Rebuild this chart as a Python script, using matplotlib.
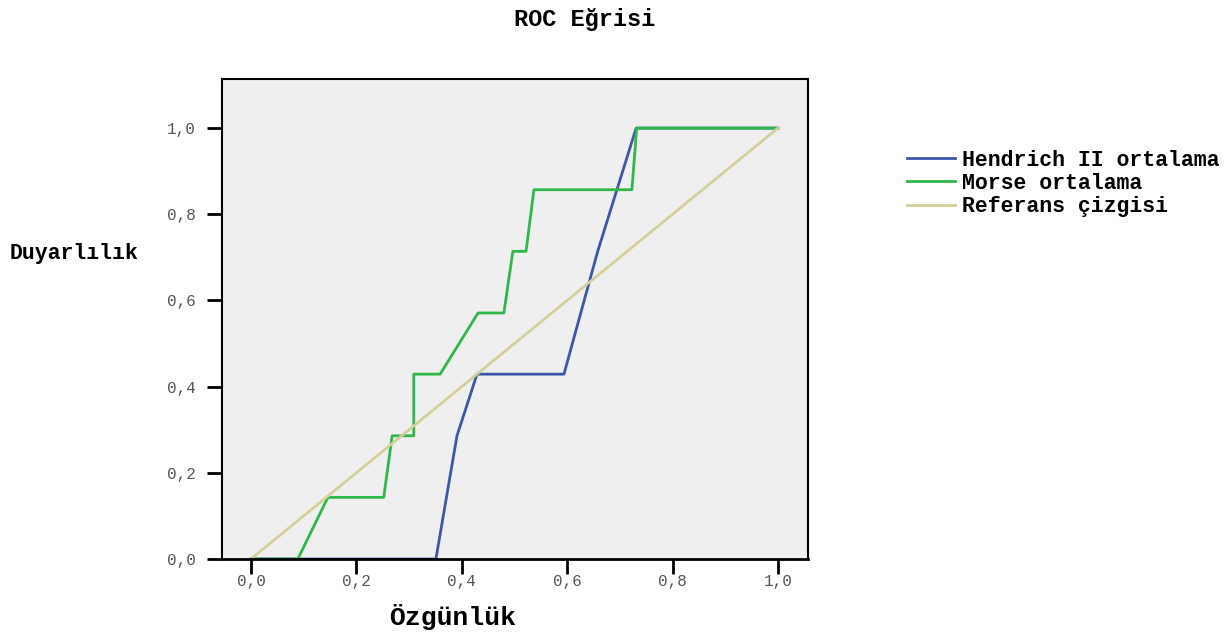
import numpy as np
import matplotlib.pyplot as plt
from matplotlib.ticker import FuncFormatter

# ROC points (1 - specificity, sensitivity)
hendrich_x = [0.0, 0.351, 0.391, 0.429, 0.594, 0.658, 0.731, 1.0]
hendrich_y = [0.0, 0.0, 0.286, 0.429, 0.429, 0.714, 1.0, 1.0]

morse_x = [0.0, 0.089, 0.146, 0.252, 0.268, 0.309, 0.309, 0.359, 0.431,
           0.480, 0.497, 0.522, 0.537, 0.723, 0.732, 1.0]
morse_y = [0.0, 0.0, 0.143, 0.143, 0.286, 0.286, 0.429, 0.429, 0.571,
           0.571, 0.714, 0.714, 0.857, 0.857, 1.0, 1.0]

ref_x = [0.0, 1.0]
ref_y = [0.0, 1.0]

series_labels = ["Hendrich II ortalama", "Morse ortalama", "Referans çizgisi"]
ticks = [0.0, 0.2, 0.4, 0.6, 0.8, 1.0]

mono = "Liberation Mono"

fig = plt.figure(figsize=(12.29, 6.35), dpi=100)
ax = fig.add_axes([0.1806, 0.1197, 0.4768, 0.7559])
ax.set_facecolor("#efefef")

ax.plot(hendrich_x, hendrich_y, color="#3d56a9", linewidth=2, label=series_labels[0])
ax.plot(morse_x, morse_y, color="#2fb84a", linewidth=2, label=series_labels[1])
ax.plot(ref_x, ref_y, color="#d3cf98", linewidth=2, label=series_labels[2])

ax.set_xlim(-0.055, 1.057)
ax.set_ylim(0.0, 1.114)

ax.set_xticks(ticks)
ax.set_yticks(ticks)
fmt = FuncFormatter(lambda v, p: f"{v:.1f}".replace(".", ","))
ax.xaxis.set_major_formatter(fmt)
ax.yaxis.set_major_formatter(fmt)
ax.tick_params(direction="out", length=11, width=2, color="black",
               labelcolor="#555555", labelsize=11.5)
ax.tick_params(axis="x", pad=0)
ax.tick_params(axis="y", pad=8)
for lab in ax.get_xticklabels() + ax.get_yticklabels():
    lab.set_family(mono)

for sp in ax.spines.values():
    sp.set_linewidth(1.5)
ax.spines["bottom"].set_linewidth(2)

fig.text(0.476, 0.97, "ROC Eğrisi", ha="center", va="center",
         family=mono, weight="bold", fontsize=17)
fig.text(0.008, 0.6, "Duyarlılık", ha="left", va="center",
         family=mono, weight="bold", fontsize=15.5)
fig.text(0.368, 0.028, "Özgünlük", ha="center", va="center",
         family=mono, weight="bold", fontsize=19)

fig.legend(loc="upper left", bbox_to_anchor=(0.7224, 0.7945), frameon=False,
           prop={"family": mono, "weight": "bold", "size": 15.5},
           handlelength=2.2, handletextpad=0.33, labelspacing=0.1)

fig.savefig("out.png", dpi=100)
